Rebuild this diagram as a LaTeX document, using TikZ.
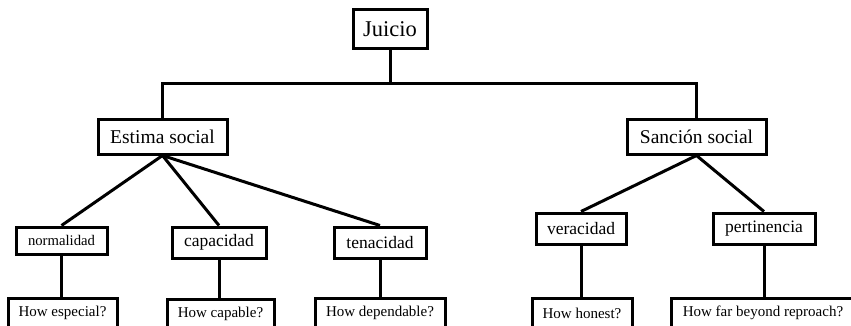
\documentclass[tikz,border=0pt]{standalone}
\usepackage{fontspec}
\setmainfont{Liberation Serif}
\begin{document}
\begin{tikzpicture}[x=1pt,y=-1pt,
  box/.style={draw=black,line width=3pt,inner sep=0pt,align=center,fill=white},
  link/.style={draw=black,line width=3pt},
  fa/.style={font=\fontsize{22.5}{24}\selectfont},
  fb/.style={font=\fontsize{19.5}{22}\selectfont},
  fc/.style={font=\fontsize{17.5}{20}\selectfont},
  fd/.style={font=\fontsize{15}{18}\selectfont}]
\useasboundingbox (0,0) rectangle (851,326);
\clip (0,0) rectangle (851,326);
% nodes
\node[box,fa,minimum width=74pt,minimum height=39pt] (J) at (390,29.5) {Juicio};
\node[box,fb,minimum width=129pt,minimum height=34pt] (ES) at (162.5,137) {Estima social};
\node[box,fb,minimum width=139pt,minimum height=34pt] (SS) at (696.5,137) {Sanción social};
\node[box,font=\fontsize{14.7}{17}\selectfont,minimum width=91pt,minimum height=27pt] (no) at (61.5,240.5) {normalidad};
\node[box,fc,minimum width=94pt,minimum height=31pt] (ca) at (219,242.5) {capacidad};
\node[box,fc,minimum width=92pt,minimum height=31pt] (te) at (380,242.5) {tenacidad};
\node[box,fc,minimum width=90pt,minimum height=31pt] (ve) at (581,228.5) {veracidad};
\node[box,fc,minimum width=102pt,minimum height=31pt] (pe) at (764,228.5) {pertinencia};
\node[box,fd,minimum width=109pt,minimum height=30pt] (h1) at (62.5,313) {How especial?};
\node[box,fd,minimum width=107pt,minimum height=30pt] (h2) at (220.5,314) {How capable?};
\node[box,fd,minimum width=130pt,minimum height=30pt] (h3) at (380,313) {How dependable?};
\node[box,fd,minimum width=100pt,minimum height=30pt] (h4) at (582,313) {How honest?};
\node[box,fd,minimum width=184pt,minimum height=30pt] (h5) at (763,313) {How far beyond reproach?};
% connectors
\coordinate (jn) at (390,84);
\draw[link] (J.south) -- (jn);
\draw[link] (ES.north) |- (jn) -| (SS.north);
\draw[link] (ES.south) -- (no.north);
\draw[link] (ES.south) -- (ca.north);
\draw[link] (ES.south) -- (te.north);
\draw[link] (SS.south) -- (ve.north);
\draw[link] (SS.south) -- (pe.north);
\draw[link] (no.south) -- (no.south |- h1.north);
\draw[link] (ca.south) -- (ca.south |- h2.north);
\draw[link] (te.south) -- (te.south |- h3.north);
\draw[link] (ve.south) -- (ve.south |- h4.north);
\draw[link] (pe.south) -- (pe.south |- h5.north);
\end{tikzpicture}
\end{document}
